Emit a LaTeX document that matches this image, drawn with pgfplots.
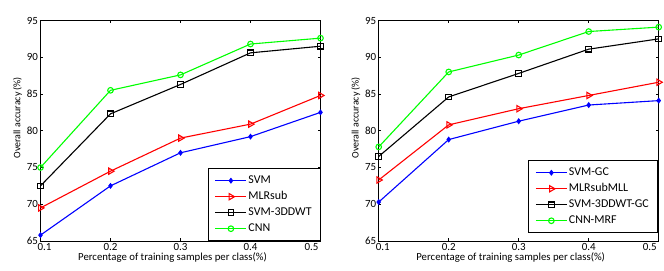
\documentclass[border=0pt]{standalone}
\usepackage{fontspec}
\setmainfont{Carlito}
\usepackage{pgfplots}
\pgfplotsset{compat=1.18}
\begin{document}
\begin{tikzpicture}
\pgfplotsset{
  legend image code/.code={\draw[mark repeat=2,mark phase=2,#1] plot coordinates {(0bp,0bp) (15.5bp,0bp) (31bp,0bp)};},
  myax/.style={
    scale only axis,
    width=280bp, height=220.5bp,
    xmin=0.1, xmax=0.5, ymin=65, ymax=95,
    xtick={0.1,0.2,0.3,0.4,0.5},
    xticklabels={\kern8bp 0.1,0.2,0.3,0.4,0.5\kern18bp},
    ytick={65,70,75,80,85,90,95},
    tick align=inside,
    major tick length=2.5bp,
    axis line style={line width=0.7bp},
    tick style={line width=0.5bp, black},
    /pgf/number format/assume math mode=true,
    tick label style={font=\fontsize{11}{13}\selectfont},
    xlabel={Percentage of training samples per class(\%)},
    ylabel={Overall accuracy (\%)},
    xlabel style={font=\fontsize{10.8}{13}\selectfont, yshift=5bp, xshift=-8bp},
    ylabel style={font=\fontsize{10}{12}\selectfont, yshift=-2bp, xshift=13bp},
    xticklabel style={yshift=1bp},
    yticklabel style={xshift=1bp},
    legend style={font=\fontsize{12}{14}\selectfont, draw=black, line width=0.6bp,
      row sep=4bp, column sep=0bp, inner xsep=7bp, inner ysep=6bp, cells={anchor=west},
      nodes={inner ysep=0bp, inner xsep=1.5bp, text height=9bp, text depth=3bp}},
    legend cell align=left,
    every axis plot/.append style={line width=1.1bp},
    clip=false,
  },
  s1/.style={blue, mark=diamond*, mark size=2.2bp, mark options={fill=blue}},
  s2/.style={red, mark=triangle, mark size=3.6bp, mark options={rotate=-90}},
  s3/.style={black, mark=square, mark size=2.8bp},
  s4/.style={green, mark=o, mark size=2.8bp},
}
\begin{axis}[myax, at={(40.5bp,30bp)}, anchor=south west,
  legend style={at={(1,0)}, anchor=south east}]
\addplot[s1] coordinates {(0.1,65.8) (0.2,72.5) (0.3,77.0) (0.4,79.2) (0.5,82.5)};
\addplot[s2] coordinates {(0.1,69.5) (0.2,74.5) (0.3,79.0) (0.4,80.9) (0.5,84.8)};
\addplot[s3] coordinates {(0.1,72.5) (0.2,82.3) (0.3,86.3) (0.4,90.6) (0.5,91.5)};
\addplot[s4] coordinates {(0.1,75.0) (0.2,85.5) (0.3,87.6) (0.4,91.8) (0.5,92.6)};
\legend{SVM, MLRsub, SVM-3DDWT, CNN}
\end{axis}
\begin{axis}[myax, at={(378.7bp,30bp)}, anchor=south west,
  legend style={at={(0.996,0.036)}, anchor=south east}]
\addplot[s1] coordinates {(0.1,70.3) (0.2,78.8) (0.3,81.3) (0.4,83.5) (0.5,84.1)};
\addplot[s2] coordinates {(0.1,73.3) (0.2,80.8) (0.3,83.0) (0.4,84.8) (0.5,86.6)};
\addplot[s3] coordinates {(0.1,76.5) (0.2,84.6) (0.3,87.8) (0.4,91.1) (0.5,92.5)};
\addplot[s4] coordinates {(0.1,77.8) (0.2,88.0) (0.3,90.3) (0.4,93.5) (0.5,94.1)};
\legend{SVM-GC, MLRsubMLL, SVM-3DDWT-GC, CNN-MRF}
\end{axis}
\pgfresetboundingbox
\path[use as bounding box] (0bp,0bp) rectangle (664bp,271bp);
\end{tikzpicture}
\end{document}
